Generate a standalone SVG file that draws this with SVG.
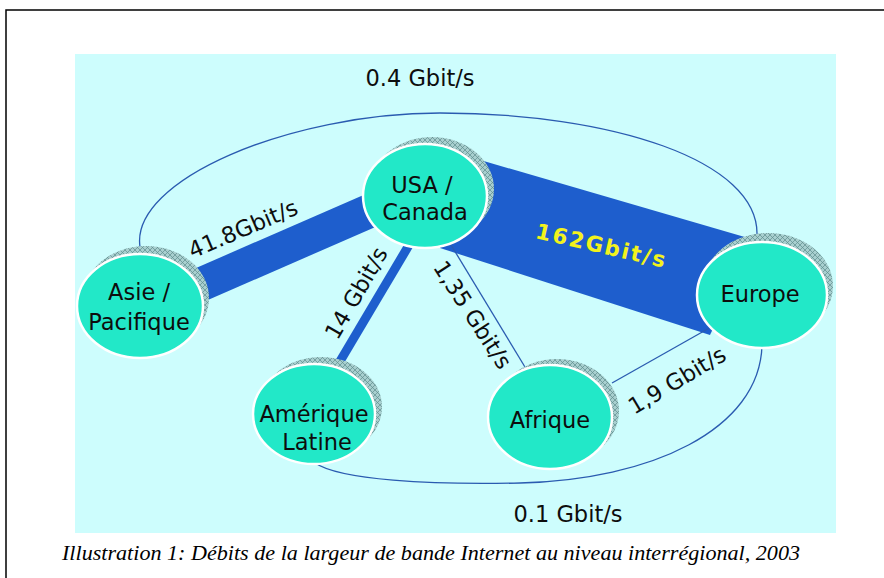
<svg xmlns="http://www.w3.org/2000/svg" width="884" height="578" viewBox="0 0 884 578">
<style>
.lbl{font-family:"DejaVu Sans","Liberation Sans",sans-serif;font-size:22.5px;fill:#0d0d0d}
.node{fill:#22e8c8;stroke:#ffffff;stroke-width:2.5}
.shadow{fill:url(#hatch)}
.thin{fill:none;stroke:#2a5bb0;stroke-width:1.3}
.band{fill:#1e5ecd}
</style>
<defs>
<pattern id="hatch" width="5" height="5" patternUnits="userSpaceOnUse">
<rect width="5" height="5" fill="#a8cfcf"/>
<path d="M0,0L5,5M5,0L0,5" stroke="#5e8c8c" stroke-width="0.7"/>
</pattern>
</defs>
<rect width="884" height="578" fill="#ffffff"/>
<path d="M6,578V10H884" fill="none" stroke="#000" stroke-width="1.5"/>
<rect x="75" y="54" width="761" height="479" fill="#cdfdfd"/>
<g id="connectors">
<path class="thin" d="M140,247C130,180 290,113 440,113C610,113 760,160 757,236"/>
<path class="thin" d="M315,463C340,480 430,485 520,483C650,480 760,430 762,345"/>
<path class="band" d="M470,157L755,240L710,335L440,248Z"/>
<path class="band" d="M180,275L375,190L380,225L185,310Z"/>
<path d="M336,368L412,240" stroke="#1e5ecd" stroke-width="9" fill="none"/>
<path class="thin" d="M445,235L528,372"/>
<path class="thin" d="M612,383L720,322"/>
</g>
<g id="labels">
<text class="lbl" x="420" y="86" text-anchor="middle">0.4 Gbit/s</text>
<text class="lbl" x="568" y="522" text-anchor="middle">0.1 Gbit/s</text>
<text class="lbl" text-anchor="middle" transform="translate(246,236) rotate(-23)">41.8Gbit/s</text>
<text text-anchor="middle" transform="translate(600,253) rotate(13)" style="font-family:'DejaVu Sans','Liberation Sans',sans-serif;font-size:21.5px;font-weight:bold;fill:#f2f21c;letter-spacing:2px">162Gbit/s</text>
<text class="lbl" text-anchor="middle" transform="translate(363,297) rotate(-60)">14 Gbit/s</text>
<text class="lbl" text-anchor="middle" transform="translate(466,319) rotate(57)">1,35 Gbit/s</text>
<text class="lbl" text-anchor="middle" transform="translate(681,387) rotate(-31)">1,9 Gbit/s</text>
</g>
<g id="node-usa">
<ellipse class="shadow" cx="432" cy="189" rx="62" ry="52"/>
<ellipse class="node" cx="425" cy="196" rx="62" ry="52"/>
<text class="lbl" x="422" y="193" text-anchor="middle">USA /</text>
<text class="lbl" x="425" y="220" text-anchor="middle">Canada</text>
</g>
<g id="node-asie">
<ellipse class="shadow" cx="146" cy="298" rx="63" ry="52"/>
<ellipse class="node" cx="140" cy="306" rx="63" ry="52"/>
<text class="lbl" x="139" y="300" text-anchor="middle">Asie /</text>
<text class="lbl" x="139" y="330" text-anchor="middle">Pacifique</text>
</g>
<g id="node-europe">
<ellipse class="shadow" cx="768" cy="286" rx="65" ry="53"/>
<ellipse class="node" cx="762" cy="295" rx="65" ry="53"/>
<text class="lbl" x="760" y="302" text-anchor="middle">Europe</text>
</g>
<g id="node-amerique">
<ellipse class="shadow" cx="321" cy="407" rx="61" ry="50"/>
<ellipse class="node" cx="314" cy="414" rx="61" ry="50"/>
<text class="lbl" x="314" y="422" text-anchor="middle">Amérique</text>
<text class="lbl" x="317" y="450" text-anchor="middle">Latine</text>
</g>
<g id="node-afrique">
<ellipse class="shadow" cx="557" cy="411" rx="62" ry="52"/>
<ellipse class="node" cx="550" cy="417" rx="62" ry="52"/>
<text class="lbl" x="550" y="428" text-anchor="middle">Afrique</text>
</g>
<text x="62" y="560" textLength="738" lengthAdjust="spacingAndGlyphs" style="font-family:'Liberation Serif',serif;font-style:italic;font-size:21px;fill:#000">Illustration 1: Débits de la largeur de bande Internet au niveau interrégional, 2003</text>
</svg>
